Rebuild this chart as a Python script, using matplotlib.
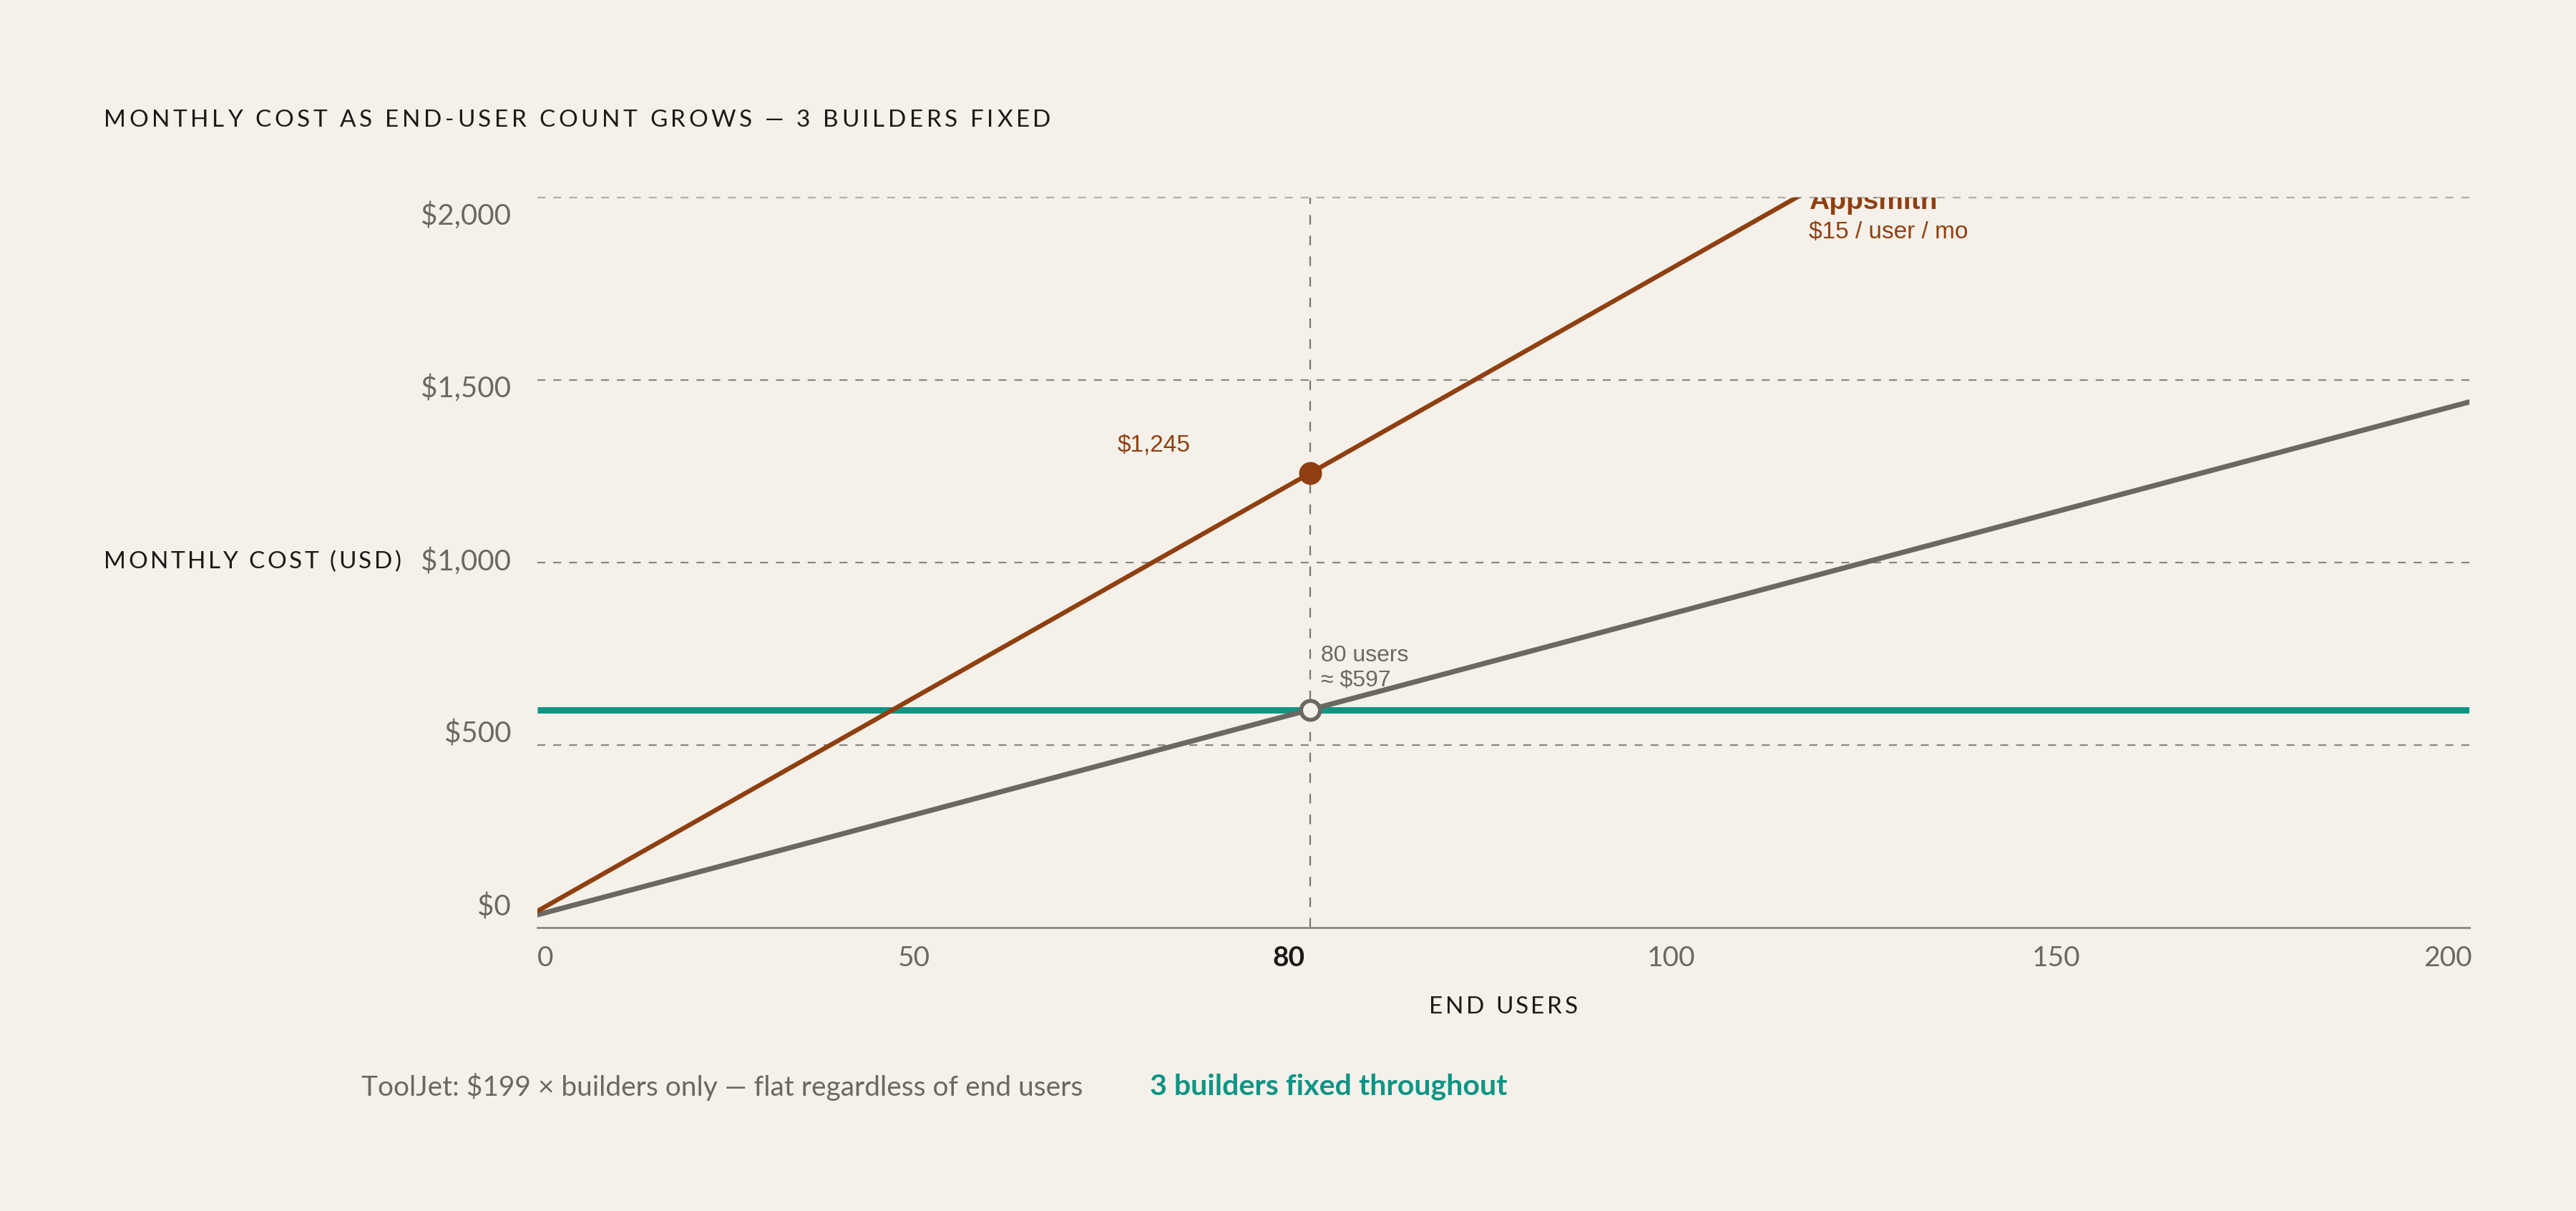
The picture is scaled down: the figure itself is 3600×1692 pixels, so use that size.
import numpy as np
import matplotlib
matplotlib.use('Agg')
import matplotlib.pyplot as plt

# ---- data ----
users = [0, 80, 200]
appsmith_cost = [45, 1245, 3045]      # $15 / user / mo, clipped at the top
other_cost = [35, 597, 1440]          # grey line, unlabelled
tooljet_cost = [597, 597, 597]        # $199 x 3 builders, flat
x_tick_labels = ['0', '50', '80', '100', '150', '200']
y_tick_labels = ['$0', '$500', '$1,000', '$1,500', '$2,000']
grid_values = [500, 1000, 1500]
marker_users = 80

BG = '#f5f1ea'
ORANGE = '#8f3f10'
TEAL = '#0f9484'
GREY = '#6b6762'
INK = '#1c1a17'
SANS = ['Lato', 'DejaVu Sans']
ARIAL = ['Liberation Sans', 'DejaVu Sans']

W, H, DPI = 3600, 1692, 200
fig = plt.figure(figsize=(W / DPI, H / DPI), dpi=DPI, facecolor=BG)
ax = fig.add_axes([751 / W, 1 - 1296 / H, 2700 / W, 1020 / H], facecolor=BG)
ax.set_xlim(0, 200)
ax.set_ylim(0, 2000)
for s in ['top', 'right', 'left']:
    ax.spines[s].set_visible(False)
ax.spines['bottom'].set_color('#8a8680')
ax.spines['bottom'].set_linewidth(1.0)
ax.set_xticks([])
ax.set_yticks([])

# grid
for g in grid_values:
    ax.axhline(g, color='#8a8680', lw=0.8, ls=(0, (5, 5)), zorder=1)
ax.axhline(2000, color='#b3afa9', lw=0.8, ls=(0, (5, 5)), zorder=1, clip_on=False)
ax.vlines(marker_users, 0, 2000, color='#7a7670', lw=0.8, ls=(0, (6, 7)), zorder=1)

# lines
ax.plot(users, tooljet_cost, color=TEAL, lw=3.2, solid_capstyle='butt', zorder=2)
ax.plot(users, other_cost, color=GREY, lw=2.6, solid_capstyle='round', zorder=3)
ax.plot(users, appsmith_cost, color=ORANGE, lw=2.3, solid_capstyle='round', zorder=4)

ax.plot([users[1]], [appsmith_cost[1]], 'o', ms=10.5, color=ORANGE, zorder=6)
ax.plot([users[1]], [other_cost[1]], 'o', ms=9.5, mfc=BG, mec=GREY, mew=2.0, zorder=6)

# annotations
ax.text(67.6, 1302, '$1,245', color=ORANGE, fontsize=12, family=ARIAL,
        ha='right', va='baseline')
ax.text(81.1, 729, '80 users', color=GREY, fontsize=11.5, family=ARIAL,
        ha='left', va='baseline')
ax.text(81.1, 661, '≈ $597', color=GREY, fontsize=11.5, family=ARIAL,
        ha='left', va='baseline')
ax.text(131.6, 1968, 'Appsmith', color=ORANGE, fontsize=14, family=ARIAL,
        weight='bold', ha='left', va='baseline', clip_on=True)
ax.text(131.6, 1888, '$15 / user / mo', color=ORANGE, fontsize=12, family=ARIAL,
        ha='left', va='baseline', clip_on=False)

# tick labels (spread evenly across the axis, like the original layout)
x_label_pos = [0.004, 0.195, 0.389, 0.587, 0.786, 0.989]
for lab, xf in zip(x_tick_labels, x_label_pos):
    bold = lab == str(marker_users)
    ax.text(xf, -0.042, lab, transform=ax.transAxes, ha='center', va='center',
            fontsize=14, family=SANS, color=INK if bold else GREY,
            weight='bold' if bold else 'normal')
for lab, yf in zip(y_tick_labels, np.linspace(0.028, 0.975, len(y_tick_labels))):
    ax.text(-0.0137, yf, lab, transform=ax.transAxes, ha='right', va='center',
            fontsize=14.5, family=SANS, color=GREY)


def spaced_text(x_px, y_px, s, spacing_px, **kw):
    # draw text with letter spacing, one character at a time
    r = fig.canvas.get_renderer()
    probe = fig.text(0, 0, 'ab', **kw)
    wab = probe.get_window_extent(r).width
    probe.set_text('a b')
    space_w = probe.get_window_extent(r).width - wab
    probe.remove()
    x = x_px
    for ch in s:
        if ch == ' ':
            x += space_w + spacing_px
            continue
        t = fig.text(x / W, 1 - y_px / H, ch, ha='left', va='center', **kw)
        x += t.get_window_extent(r).width + spacing_px


spaced_text(145, 168, 'MONTHLY COST AS END-USER COUNT GROWS — 3 BUILDERS FIXED', 4.6,
            fontsize=12, family=SANS, color=INK)
spaced_text(145, 785, 'MONTHLY COST (USD)', 3.5, fontsize=12, family=SANS, color=INK)

r = fig.canvas.get_renderer()
t = fig.text(0, 0, 'END USERS', fontsize=12, family=SANS)
ew = t.get_window_extent(r).width + 3.5 * 8
t.remove()
spaced_text(2101 - ew / 2, 1407, 'END USERS', 3.5, fontsize=12, family=SANS, color=INK)

fig.text(505 / W, 1 - 1518 / H, 'ToolJet: $199 × builders only — flat regardless of end users',
         fontsize=14, family=SANS, color=GREY, ha='left', va='center')
fig.text(1607 / W, 1 - 1518 / H, '3 builders fixed throughout',
         fontsize=14.8, family=SANS, color=TEAL, weight='bold', ha='left', va='center')

fig.savefig('out.png', dpi=DPI, facecolor=BG)
